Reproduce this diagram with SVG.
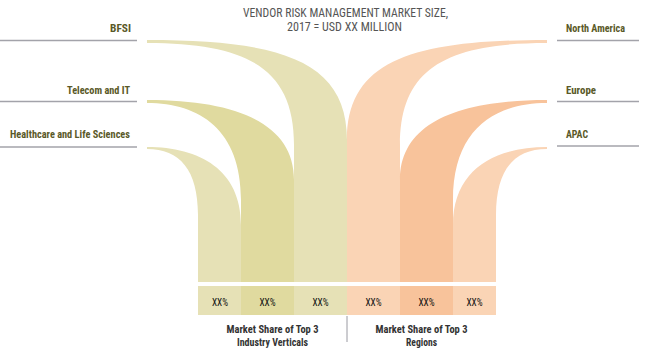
<svg xmlns="http://www.w3.org/2000/svg" width="650" height="362" viewBox="0 0 650 362">
<style>
.lbl{font-family:"Liberation Sans Narrow","Roboto Condensed","Liberation Sans",sans-serif;font-weight:bold;font-size:10.5px;fill:#5a5928}
.ttl{font-family:"Liberation Sans Narrow","Roboto Condensed","Liberation Sans",sans-serif;font-size:12.5px;fill:#555555;text-anchor:middle}
.pct{font-family:"Liberation Sans Narrow","Roboto Condensed","Liberation Sans",sans-serif;font-size:11px;fill:#111111;text-anchor:middle}
.cap{font-family:"Liberation Sans Narrow","Roboto Condensed","Liberation Sans",sans-serif;font-weight:bold;font-size:11.5px;fill:#333333;text-anchor:middle}
.rule{stroke:#a3a3aa;stroke-width:1.5;fill:none}
.gl{fill:#e6e1b6}
.gd{fill:#e0da9f}
.ol{fill:#fad4b5}
.od{fill:#f8c39b}
</style>
<g id="title">
<text class="ttl" x="345.5" y="17" textLength="205" lengthAdjust="spacingAndGlyphs">VENDOR RISK MANAGEMENT MARKET SIZE,</text>
<text class="ttl" x="344.5" y="31" textLength="115" lengthAdjust="spacingAndGlyphs">2017 = USD XX MILLION</text>
</g>
<g id="connectors">
<line class="rule" x1="0" y1="40.5" x2="137" y2="40.5"/>
<line class="rule" x1="0" y1="101.5" x2="137" y2="101.5"/>
<line class="rule" x1="0" y1="147" x2="137" y2="147"/>
<line class="rule" x1="557" y1="40.5" x2="639" y2="40.5"/>
<line class="rule" x1="557" y1="101.5" x2="639" y2="101.5"/>
<line class="rule" x1="557" y1="146" x2="639" y2="146"/>
<line x1="347" y1="316" x2="347" y2="342" stroke="#9a9aa2" stroke-width="1"/>
</g>
<g id="bfsi">
<path class="gl" d="M147,40 C280,40 347,60 347,140 L347,282 L294,282 L294,145 C294,70 250,43 147,43 Z"/>
<text class="lbl" x="131" y="32" text-anchor="end" textLength="21" lengthAdjust="spacingAndGlyphs">BFSI</text>
<rect class="gl" x="294" y="286" width="53" height="29"/>
<text class="pct" x="320.5" y="306" textLength="16" lengthAdjust="spacingAndGlyphs">XX%</text>
</g>
<g id="telecom">
<path class="gd" d="M147,100 C240,100 294,125 294,180 L294,282 L241,282 L241,200 C241,130 200,103 147,103 Z"/>
<text class="lbl" x="130" y="94" text-anchor="end" textLength="63" lengthAdjust="spacingAndGlyphs">Telecom and IT</text>
<rect class="gd" x="241" y="286" width="53" height="29"/>
<text class="pct" x="267.5" y="306" textLength="16" lengthAdjust="spacingAndGlyphs">XX%</text>
</g>
<g id="healthcare">
<path class="gl" d="M147,147 C200,147 241,170 241,225 L241,282 L198,282 L198,215 C198,170 180,149 147,149 Z"/>
<text class="lbl" x="130" y="138" text-anchor="end" textLength="120" lengthAdjust="spacingAndGlyphs">Healthcare and Life Sciences</text>
<rect class="gl" x="198" y="286" width="43" height="29"/>
<text class="pct" x="220" y="306" textLength="16" lengthAdjust="spacingAndGlyphs">XX%</text>
</g>
<g id="north-america">
<path class="ol" transform="matrix(-1 0 0 1 694 0)" d="M147,40 C280,40 347,60 347,140 L347,282 L294,282 L294,145 C294,70 250,43 147,43 Z"/>
<text class="lbl" x="566" y="32" textLength="59" lengthAdjust="spacingAndGlyphs">North America</text>
<rect class="ol" x="347" y="286" width="53" height="29"/>
<text class="pct" x="373.5" y="306" textLength="16" lengthAdjust="spacingAndGlyphs">XX%</text>
</g>
<g id="europe">
<path class="od" transform="matrix(-1 0 0 1 694 0)" d="M147,100 C240,100 294,125 294,180 L294,282 L241,282 L241,200 C241,130 200,103 147,103 Z"/>
<text class="lbl" x="566" y="94" textLength="30" lengthAdjust="spacingAndGlyphs">Europe</text>
<rect class="od" x="400" y="286" width="53" height="29"/>
<text class="pct" x="426.5" y="306" textLength="16" lengthAdjust="spacingAndGlyphs">XX%</text>
</g>
<g id="apac">
<path class="ol" transform="matrix(-1 0 0 1 694 0)" d="M147,147 C200,147 241,170 241,225 L241,282 L198,282 L198,215 C198,170 180,149 147,149 Z"/>
<text class="lbl" x="566" y="137.5" textLength="22" lengthAdjust="spacingAndGlyphs">APAC</text>
<rect class="ol" x="453" y="286" width="43" height="29"/>
<text class="pct" x="474.5" y="306" textLength="16" lengthAdjust="spacingAndGlyphs">XX%</text>
</g>
<g id="captions">
<text class="cap" x="272.5" y="333" textLength="92" lengthAdjust="spacingAndGlyphs">Market Share of Top 3</text>
<text class="cap" x="272.5" y="346" textLength="71" lengthAdjust="spacingAndGlyphs">Industry Verticals</text>
<text class="cap" x="421.5" y="333" textLength="92" lengthAdjust="spacingAndGlyphs">Market Share of Top 3</text>
<text class="cap" x="421.5" y="346" textLength="31" lengthAdjust="spacingAndGlyphs">Regions</text>
</g>
</svg>
